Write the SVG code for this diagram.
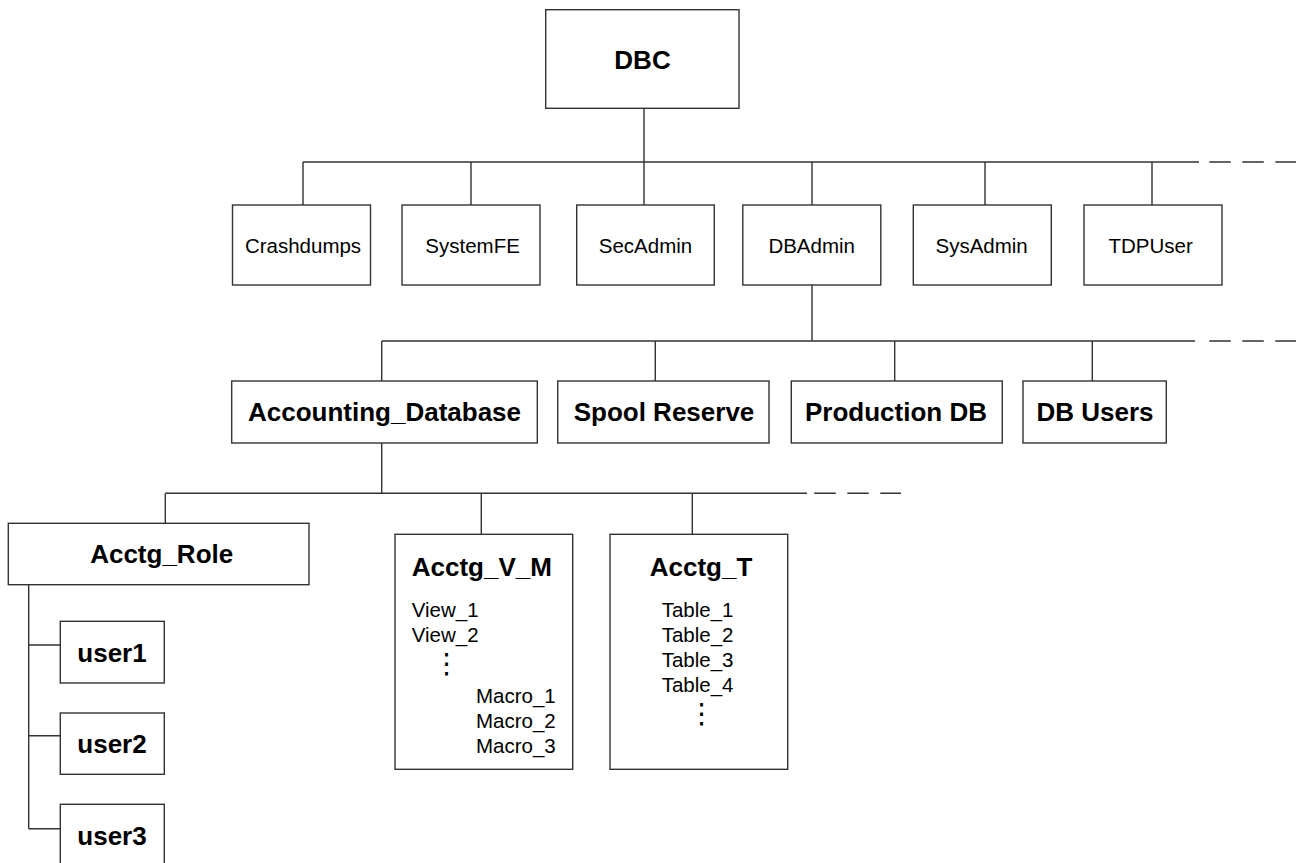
<svg xmlns="http://www.w3.org/2000/svg" width="1296" height="863" viewBox="0 0 1296 863">
<style>
.box{fill:#fff;stroke:#333;stroke-width:1.4}
.ln{fill:none;stroke:#333;stroke-width:1.4}
.dash{fill:none;stroke:#333;stroke-width:1.4;stroke-dasharray:21.5 11.5}
.b{font-family:"Liberation Sans",Arial,sans-serif;font-weight:bold;font-size:26px;fill:#000}
.r{font-family:"Liberation Sans",Arial,sans-serif;font-size:20.5px;fill:#000}
.dots{font-family:"DejaVu Sans",sans-serif;font-size:28px;fill:#000}
.m{text-anchor:middle}
</style>
<rect width="1296" height="863" fill="#fff"/>
<g id="connectors">
  <path class="ln" d="M644 108V162M303 162H1199M303 162V205M471 162V205M644 162V205M812 162V205M985 162V205M1152 162V205"/>
  <path class="dash" d="M1209.3 162H1296"/>
  <path class="ln" d="M812 285V341M381.7 341H1195M381.7 341V381M655.3 341V381M894.7 341V381M1092.3 341V381"/>
  <path class="dash" d="M1209.3 341H1296"/>
  <path class="ln" d="M381.7 443V493.3M165.3 493.3H807M165.3 493.3V523.3M481.3 493.3V534.3M692.3 493.3V534.3"/>
  <path class="dash" d="M814.3 493.3H901"/>
  <path class="ln" d="M28.7 584.7V828.7M28.7 645H60.3M28.7 735.7H60.3M28.7 828.7H60.3"/>
</g>
<g id="DBC"><rect class="box" x="545.7" y="9.7" width="193.3" height="98.6"/><text class="b m" x="642.5" y="69">DBC</text></g>
<g id="Crashdumps"><rect class="box" x="232.5" y="205" width="138" height="80"/><text class="r m" x="303" y="253.3">Crashdumps</text></g>
<g id="SystemFE"><rect class="box" x="402" y="205" width="138" height="80"/><text class="r m" x="472.6" y="253.3">SystemFE</text></g>
<g id="SecAdmin"><rect class="box" x="576.7" y="205" width="137.6" height="80"/><text class="r m" x="645.5" y="253.3">SecAdmin</text></g>
<g id="DBAdmin"><rect class="box" x="742.8" y="205" width="138" height="80"/><text class="r m" x="811.7" y="253.3">DBAdmin</text></g>
<g id="SysAdmin"><rect class="box" x="913.3" y="205" width="138" height="80"/><text class="r m" x="981.6" y="253.3">SysAdmin</text></g>
<g id="TDPUser"><rect class="box" x="1084" y="205" width="138" height="80"/><text class="r m" x="1150.7" y="253.3">TDPUser</text></g>
<g id="Accounting_Database"><rect class="box" x="231.7" y="381" width="305.6" height="62"/><text class="b m" x="384.5" y="421">Accounting_Database</text></g>
<g id="Spool_Reserve"><rect class="box" x="557.7" y="381" width="211.3" height="62"/><text class="b m" x="664" y="421">Spool Reserve</text></g>
<g id="Production_DB"><rect class="box" x="791.3" y="381" width="211" height="62"/><text class="b m" x="896" y="421">Production DB</text></g>
<g id="DB_Users"><rect class="box" x="1023" y="381" width="143.3" height="62"/><text class="b m" x="1095" y="421">DB Users</text></g>
<g id="Acctg_Role"><rect class="box" x="8.3" y="523.3" width="300.7" height="61.4"/><text class="b m" x="161.7" y="563">Acctg_Role</text></g>
<g id="Acctg_V_M"><rect class="box" x="395" y="534.3" width="177.7" height="235"/>
  <text class="b" x="411.7" y="576">Acctg_V_M</text>
  <text class="r" x="411.7" y="617.3">View_1</text>
  <text class="r" x="411.7" y="642.3">View_2</text>
  <text class="dots m" x="446.7" y="673">⋮</text>
  <text class="r" x="476" y="702.7">Macro_1</text>
  <text class="r" x="476" y="727.7">Macro_2</text>
  <text class="r" x="476" y="752.7">Macro_3</text>
</g>
<g id="Acctg_T"><rect class="box" x="610" y="534.3" width="177.7" height="235"/>
  <text class="b m" x="701" y="576">Acctg_T</text>
  <text class="r" x="661.7" y="617.3">Table_1</text>
  <text class="r" x="661.7" y="642.3">Table_2</text>
  <text class="r" x="661.7" y="667.3">Table_3</text>
  <text class="r" x="661.7" y="692.3">Table_4</text>
  <text class="dots m" x="701.7" y="723">⋮</text>
</g>
<g id="user1"><rect class="box" x="60.3" y="621.3" width="104" height="61.7"/><text class="b m" x="112" y="661.7">user1</text></g>
<g id="user2"><rect class="box" x="60.3" y="713" width="104" height="61.3"/><text class="b m" x="112" y="753.3">user2</text></g>
<g id="user3"><rect class="box" x="60.3" y="804.3" width="104" height="62"/><text class="b m" x="112" y="844.5">user3</text></g>
</svg>
